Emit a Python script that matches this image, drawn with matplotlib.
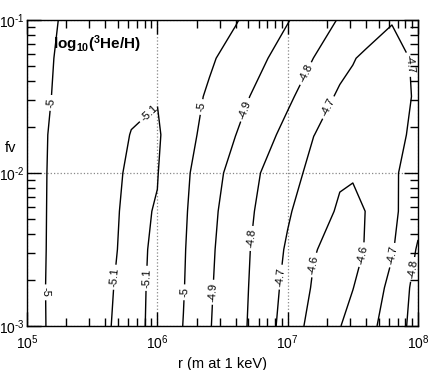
import numpy as np
import matplotlib
matplotlib.use('Agg')
import matplotlib.pyplot as plt

plt.rcParams['font.family'] = ['Liberation Sans', 'DejaVu Sans']
plt.rcParams['mathtext.fontset'] = 'custom'
plt.rcParams['mathtext.rm'] = 'Liberation Sans'
plt.rcParams['mathtext.it'] = 'Liberation Sans:italic'
plt.rcParams['mathtext.bf'] = 'Liberation Sans:bold'
plt.rcParams['contour.negative_linestyle'] = 'solid'

# grid: log10 r (columns), log10 fv (rows)
log_r = [5.0, 5.3, 5.6, 5.8, 6.0, 6.2, 6.4, 6.6, 6.8, 7.0, 7.2, 7.4, 7.5, 7.6, 7.8, 8.0]
log_fv = [-3.0, -2.75, -2.5, -2.25, -2.0, -1.75, -1.5, -1.25, -1.0]

# log10(3He/H), one row per fv value
he3_h = [
    [-4.970, -5.032, -5.091, -5.130, -5.074, -4.998, -4.905, -4.837, -4.753, -4.658, -4.565, -4.597, -4.630, -4.664, -4.748, -4.840],
    [-4.972, -5.031, -5.088, -5.125, -5.081, -5.004, -4.910, -4.839, -4.761, -4.672, -4.590, -4.575, -4.598, -4.636, -4.726, -4.835],
    [-4.972, -5.029, -5.085, -5.117, -5.090, -5.008, -4.916, -4.842, -4.768, -4.688, -4.605, -4.570, -4.580, -4.604, -4.691, -4.810],
    [-4.973, -5.027, -5.082, -5.115, -5.096, -5.014, -4.925, -4.850, -4.781, -4.711, -4.643, -4.588, -4.583, -4.601, -4.677, -4.770],
    [-4.973, -5.026, -5.079, -5.110, -5.103, -5.021, -4.940, -4.866, -4.797, -4.734, -4.676, -4.612, -4.606, -4.615, -4.683, -4.750],
    [-4.975, -5.022, -5.070, -5.102, -5.110, -5.036, -4.967, -4.901, -4.838, -4.771, -4.701, -4.670, -4.660, -4.650, -4.675, -4.720],
    [-4.975, -5.015, -5.050, -5.087, -5.097, -5.035, -4.989, -4.931, -4.874, -4.817, -4.751, -4.685, -4.677, -4.670, -4.670, -4.710],
    [-4.978, -5.010, -5.038, -5.055, -5.068, -5.037, -5.011, -4.968, -4.914, -4.857, -4.799, -4.733, -4.705, -4.685, -4.680, -4.710],
    [-4.980, -5.005, -5.025, -5.040, -5.050, -5.040, -5.025, -5.006, -4.958, -4.905, -4.848, -4.793, -4.770, -4.747, -4.703, -4.730],
]
levels = [-5.1, -5.0, -4.9, -4.8, -4.7, -4.6]

x_ticks = [5, 6, 7, 8]
y_ticks = [-3, -2, -1]

# where the contour labels sit (log r, log fv)
label_pos = [(5.161, -1.54), (5.153, -2.78),
             (5.905, -1.58), (5.659, -2.68), (5.958, -2.69),
             (6.349, -1.57), (6.211, -2.78),
             (6.617, -1.57), (6.441, -2.78),
             (7.092, -1.33), (6.747, -2.43),
             (7.307, -1.57), (7.935, -1.29), (6.939, -2.68), (7.82, -2.54),
             (7.192, -2.60), (7.598, -2.54),
             (7.958, -2.63)]

fig = plt.figure(figsize=(4.36, 3.70), dpi=100)
ax = fig.add_axes([27/436, 1-326/370, 391/436, 306/370])

cs = ax.contour(log_r, log_fv, np.array(he3_h), levels=levels, colors='k', linewidths=1.0)
ax.clabel(cs, fmt='%g', fontsize=8, inline=True, inline_spacing=3, manual=label_pos)

ax.set_xlim(5, 8)
ax.set_ylim(-3, -1)

ax.set_xticks(x_ticks)
ax.set_xticklabels(['$10^{%d}$' % t for t in x_ticks], fontsize=10)
ax.set_yticks(y_ticks)
ax.set_yticklabels([r'$10^{\text{-}%d}$' % -t for t in y_ticks], fontsize=10)

minor_x = [d + np.log10(k) for d in range(5, 8) for k in range(2, 10)]
minor_y = [d + np.log10(k) for d in range(-3, -1) for k in range(2, 10)]
ax.set_xticks(minor_x, minor=True)
ax.set_yticks(minor_y, minor=True)

ax.tick_params(which='both', direction='in', top=True, right=True, width=1)
ax.tick_params(which='major', length=10)
ax.tick_params(which='minor', length=6)
ax.tick_params(axis='x', which='major', pad=5)
ax.tick_params(axis='y', which='major', pad=2)

ax.grid(which='major', linestyle=':', color='#888888', linewidth=0.9)
for s in ax.spines.values():
    s.set_linewidth(1)

ax.set_xlabel('r (m at 1 keV)', fontsize=10.5, labelpad=4)
fig.text(11/436, 1-148/370, 'fv', fontsize=10.5, ha='center', va='center')
ax.text(5.2, -1.16, r'log$_{\mathbf{10}}$($^{\mathbf{3}}$He/H)', fontsize=11,
        fontweight='bold', ha='left', va='center')

fig.savefig('out.png', dpi=100)
